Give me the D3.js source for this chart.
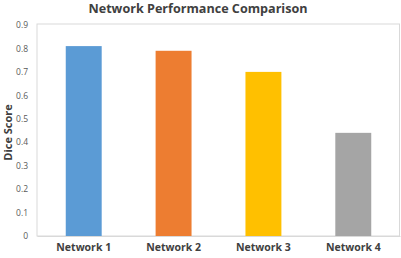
<!DOCTYPE html>
<html>
<head>
<meta charset="utf-8">
<script src="https://d3js.org/d3.v7.min.js"></script>
<style>
body { margin: 0; background: #fff; }
text { font-family: "Open Sans", sans-serif; }
</style>
</head>
<body>
<div id="chart"></div>
<script>
// chart data
var networks = ["Network 1", "Network 2", "Network 3", "Network 4"];
var scores = [0.81, 0.79, 0.70, 0.44];
var barColors = ["#5B9BD5", "#ED7D31", "#FFC000", "#A5A5A5"];
var yTicks = [0, 0.1, 0.2, 0.3, 0.4, 0.5, 0.6, 0.7, 0.8, 0.9];

var width = 401, height = 258;
var margin = {top: 25, right: 1, bottom: 22, left: 37};

var svg = d3.select("#chart")
  .append("svg")
  .attr("width", width)
  .attr("height", height);

var x = d3.scaleBand()
  .domain(networks)
  .range([margin.left, width - margin.right])
  .paddingInner(0.6)
  .paddingOuter(0.32);

var y = d3.scaleLinear()
  .domain([0, 0.9])
  .range([height - margin.bottom, margin.top]);

// plot box
svg.append("rect")
  .attr("x", margin.left)
  .attr("y", margin.top - 1)
  .attr("width", width - margin.right - margin.left - 0.5)
  .attr("height", height - margin.bottom - margin.top + 1)
  .attr("fill", "none")
  .attr("stroke", "#d9d9d9")
  .attr("stroke-width", 1);

// bars
svg.selectAll("rect.bar")
  .data(networks)
  .enter()
  .append("rect")
  .attr("class", "bar")
  .attr("x", function(d){ return x(d); })
  .attr("width", x.bandwidth())
  .attr("y", function(d, i){ return y(scores[i]); })
  .attr("height", function(d, i){ return y(0) - y(scores[i]); })
  .attr("fill", function(d, i){ return barColors[i]; });

// y axis
var yAxis = svg.append("g")
  .attr("transform", "translate(" + margin.left + ",0)")
  .call(d3.axisLeft(y).tickValues(yTicks).tickSize(0).tickPadding(9)
    .tickFormat(function(d){ return d === 0 ? "0" : d3.format(".1f")(d); }));
yAxis.select(".domain").remove();
yAxis.selectAll("text")
  .style("font-size", "8.5px")
  .style("font-family", "'Open Sans', sans-serif")
  .attr("fill", "#595959");

// x axis
var xAxis = svg.append("g")
  .attr("transform", "translate(0," + y(0) + ")")
  .call(d3.axisBottom(x).tickSize(0).tickPadding(8));
xAxis.select(".domain").attr("stroke", "#d9d9d9");
xAxis.selectAll("text")
  .style("font-size", "10.5px")
  .style("font-weight", "bold")
  .style("font-family", "'Open Sans', sans-serif")
  .attr("fill", "#404040");

// title
svg.append("text")
  .attr("x", 198)
  .attr("y", 13)
  .attr("text-anchor", "middle")
  .style("font-size", "12.6px")
  .style("font-weight", "bold")
  .attr("fill", "#404040")
  .text("Network Performance Comparison");

// y label
svg.append("text")
  .attr("transform", "translate(8," + ((margin.top + height - margin.bottom) / 2 + 2) + ") rotate(-90)")
  .attr("text-anchor", "middle")
  .attr("dy", "0.35em")
  .style("font-size", "11px")
  .style("font-weight", "bold")
  .attr("fill", "#404040")
  .text("Dice Score");
</script>
</body>
</html>
